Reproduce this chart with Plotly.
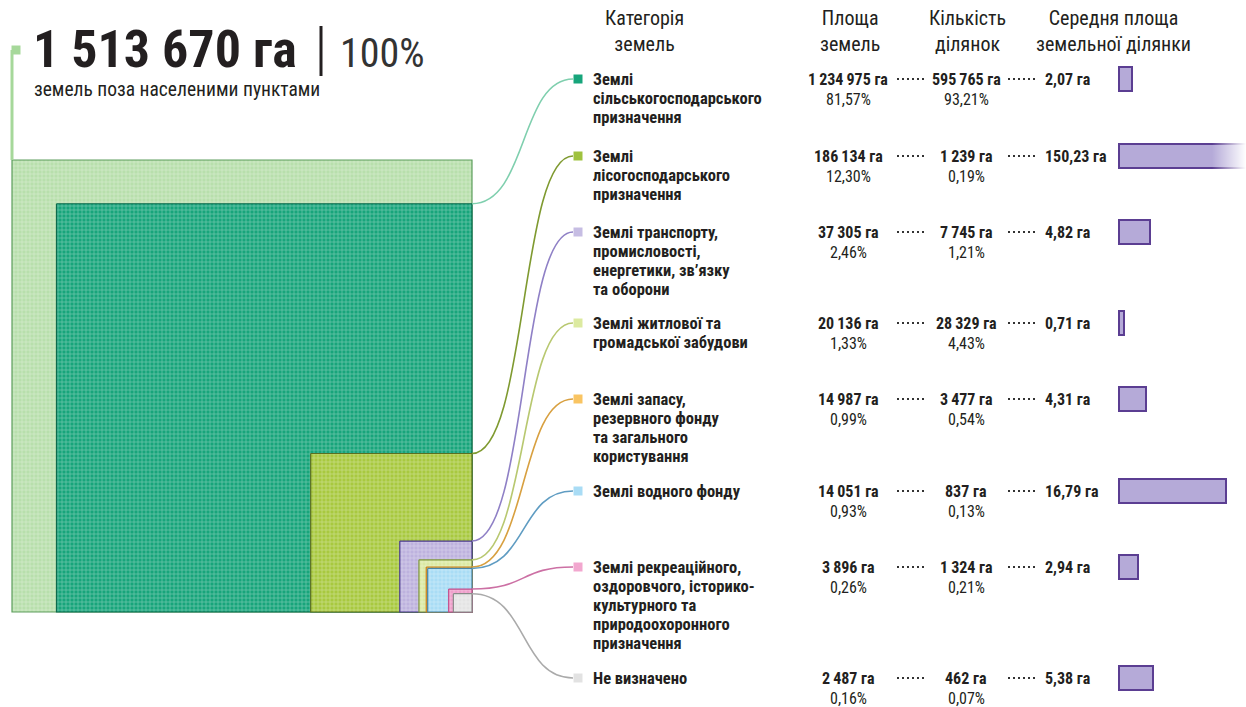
import plotly.graph_objects as go

# ---------------- data ----------------
total_ha = 1513670
categories = [
    "Землі<br>сільськогосподарського<br>призначення",
    "Землі<br>лісогосподарського<br>призначення",
    "Землі транспорту,<br>промисловості,<br>енергетики, зв’язку<br>та оборони",
    "Землі житлової та<br>громадської забудови",
    "Землі запасу,<br>резервного фонду<br>та загального<br>користування",
    "Землі водного фонду",
    "Землі рекреаційного,<br>оздоровчого, історико-<br>культурного та<br>природоохоронного<br>призначення",
    "Не визначено",
]
area_ha = [1234975, 186134, 37305, 20136, 14987, 14051, 3896, 2487]
area_pct = [81.57, 12.30, 2.46, 1.33, 0.99, 0.93, 0.26, 0.16]
parcels = [595765, 1239, 7745, 28329, 3477, 837, 1324, 462]
parcel_pct = [93.21, 0.19, 1.21, 4.43, 0.54, 0.13, 0.21, 0.07]
avg_area = [2.07, 150.23, 4.82, 0.71, 4.31, 16.79, 2.94, 5.38]

headers = ["Категорія<br>земель", "Площа<br>земель", "Кількість<br>ділянок",
           "Середня площа<br>земельної ділянки"]
title_main = "1 513 670 га"
title_pct = "100%"
subtitle = "земель поза населеними пунктами"

# ---------------- styles / layout ----------------
W, H = 1246, 707
FONT = "Roboto Condensed, Liberation Sans Narrow, DejaVu Sans Condensed, Open Sans, sans-serif"
TXT = "#231f20"
fill_cols = ["#17a57b", "#a8c93f", "#bdb2de", "#dbe9a3", "#f6b545", "#a9dcf5", "#ef9fcb", "#e4e4e4"]
edge_cols = ["#0d6a4d", "#5b6f21", "#4b3a8c", "#7d9540", "#c7801a", "#4a86a8", "#c24f8c", "#8a8a8a"]
curve_cols = ["#7fcfae", "#7f9a30", "#8f80c6", "#b8c870", "#d8a040", "#5f9cc2", "#cc70a4", "#aaaaaa"]
mark_cols = ["#17a57b", "#9fc23e", "#c6bde3", "#dceaa0", "#f9c462", "#a9dcf5", "#f2a7cf", "#e2e2e2"]
total_fill, total_edge = "#b8dfac", "#5e9e5e"

row_y = [79, 156, 232, 323, 399, 491, 567, 678]
LINE_STEP = 19
SQ_W, SQ_H = 460, 452    # size of the 100% square (pixels)
SQ_X1, SQ_Y1 = 472, 612  # bottom-right anchor
MARK_X = 578
LABEL_X = 591
AREA_CX, COUNT_CX, AVG_X = 848, 966, 1043
BAR_X0, BAR_PX_PER_HA = 1119, 6.37
VAL_SIZE = 16


def fmt_int(v):
    return f"{v:,}".replace(",", "\u2009") + " га"


def fmt_pct(v):
    return f"{v:.2f}".replace(".", ",") + "%"


def fmt_dec(v):
    return f"{v:.2f}".replace(".", ",") + " га"


fig = go.Figure()
pattern = dict(shape="+", fgcolor="white", fgopacity=0.4, size=4, solidity=0.3)


def square_trace(frac, fill, edge):
    w, h = SQ_W * frac ** 0.5, SQ_H * frac ** 0.5
    x0, y0 = SQ_X1 - w, SQ_Y1 - h
    return go.Scatter(x=[x0, SQ_X1, SQ_X1, x0, x0], y=[y0, y0, SQ_Y1, SQ_Y1, y0],
                      mode="lines", fill="toself", fillcolor=fill,
                      fillpattern=dict(pattern, bgcolor=fill),
                      line=dict(color=edge, width=1.2), hoverinfo="skip",
                      showlegend=False)


# total square
fig.add_trace(square_trace(1.0, total_fill, total_edge))
fracs = [a / total_ha for a in area_ha]
for f, fc, ec in zip(fracs, fill_cols, edge_cols):
    fig.add_trace(square_trace(f, fc, ec))

# connector curves
shapes = []
for f, ry, cc in zip(fracs, row_y, curve_cols):
    x0, y0 = SQ_X1, SQ_Y1 - SQ_H * f ** 0.5
    x1, y1 = MARK_X - 5, ry
    cx = x0 + (x1 - x0) * 0.55
    shapes.append(dict(type="path", xref="x", yref="y",
                       path=f"M {x0},{y0} C {cx},{y0} {cx - 8},{y1} {x1},{y1}",
                       line=dict(color=cc, width=1.6)))

# title marker + vertical line
total_top = SQ_Y1 - SQ_H
fig.add_trace(go.Scatter(x=[SQ_X1 - SQ_W, SQ_X1 - SQ_W], y=[50, total_top], mode="lines",
                         line=dict(color="#a6d89a", width=3), hoverinfo="skip", showlegend=False))
fig.add_trace(go.Scatter(x=[SQ_X1 - SQ_W + 4], y=[50], mode="markers",
                         marker=dict(symbol="square", size=9, color="#a6d89a"),
                         hoverinfo="skip", showlegend=False))
shapes.append(dict(type="line", xref="x", yref="y", x0=321, x1=321, y0=26, y1=76,
                   line=dict(color=TXT, width=3)))

# legend markers
fig.add_trace(go.Scatter(x=[MARK_X] * len(row_y), y=row_y, mode="markers",
                         marker=dict(symbol="square", size=9, color=mark_cols),
                         hoverinfo="skip", showlegend=False))

# dotted leaders
for ry in row_y:
    for xa, xb in [(897, 927), (1008, 1038)]:
        fig.add_trace(go.Scatter(x=[xa, xb], y=[ry, ry], mode="lines",
                                 line=dict(color="#333333", width=2, dash="2px,3px"),
                                 hoverinfo="skip", showlegend=False))

# average-area bars on their own x scale
fig.add_trace(go.Bar(x=avg_area, y=row_y, orientation="h", xaxis="x2", yaxis="y",
                     width=24, marker=dict(color="#b5aad8", line=dict(color="#5b3e92", width=2)),
                     hoverinfo="skip", showlegend=False))
# fade of the overflowing bar
fade_x0 = (1212 - BAR_X0) / BAR_PX_PER_HA
fade_x1 = (W - BAR_X0) / BAR_PX_PER_HA
ry = row_y[1]
fig.add_trace(go.Scatter(x=[fade_x0, fade_x1, fade_x1, fade_x0, fade_x0],
                         y=[ry - 15, ry - 15, ry + 15, ry + 15, ry - 15],
                         xaxis="x2", yaxis="y", mode="lines", line=dict(width=0),
                         fill="toself",
                         fillgradient=dict(type="horizontal",
                                           colorscale=[[0, "rgba(255,255,255,0)"], [1, "rgba(255,255,255,1)"]]),
                         hoverinfo="skip", showlegend=False))

ann = []
# title
ann.append(dict(x=31, y=49, text=f"<b>{title_main}</b>", xanchor="left", yanchor="middle",
                font=dict(size=52, color=TXT, family=FONT)))
ann.append(dict(x=338, y=53, text=title_pct, xanchor="left", yanchor="middle",
                font=dict(size=40, color="#333333", family=FONT)))
ann.append(dict(x=32, y=89, text=subtitle, xanchor="left", yanchor="middle",
                font=dict(size=19.5, color=TXT, family=FONT)))
# headers
for htxt, hx in zip(headers, [644, 850, 967, 1113]):
    ann.append(dict(x=hx, y=31, text=htxt, xanchor="center", yanchor="middle",
                    font=dict(size=20, color=TXT, family=FONT)))
# rows
for cat, a, ap, p, pp, av, ryy in zip(categories, area_ha, area_pct, parcels, parcel_pct, avg_area, row_y):
    for i, line in enumerate(cat.split("<br>")):
        ann.append(dict(x=LABEL_X, y=ryy + i * LINE_STEP, text=f"<b>{line}</b>", xanchor="left",
                        yanchor="middle", font=dict(size=16.5, color=TXT, family=FONT)))
    ann.append(dict(x=AREA_CX, y=ryy, text=f"<b>{fmt_int(a)}</b>", xanchor="center", yanchor="middle",
                    font=dict(size=VAL_SIZE, color=TXT, family=FONT)))
    ann.append(dict(x=AREA_CX, y=ryy + 20, text=fmt_pct(ap), xanchor="center", yanchor="middle",
                    font=dict(size=VAL_SIZE, color=TXT, family=FONT)))
    ann.append(dict(x=COUNT_CX, y=ryy, text=f"<b>{fmt_int(p)}</b>", xanchor="center", yanchor="middle",
                    font=dict(size=VAL_SIZE, color=TXT, family=FONT)))
    ann.append(dict(x=COUNT_CX, y=ryy + 20, text=fmt_pct(pp), xanchor="center", yanchor="middle",
                    font=dict(size=VAL_SIZE, color=TXT, family=FONT)))
    ann.append(dict(x=AVG_X, y=ryy, text=f"<b>{fmt_dec(av)}</b>", xanchor="left", yanchor="middle",
                    font=dict(size=VAL_SIZE, color=TXT, family=FONT)))
for a_ in ann:
    a_.update(xref="x", yref="y", showarrow=False)

bar_dom0 = (BAR_X0 - 3) / W
fig.update_layout(
    width=W, height=H, margin=dict(l=0, r=0, t=0, b=0),
    paper_bgcolor="white", plot_bgcolor="rgba(0,0,0,0)",
    xaxis=dict(range=[0, W], visible=False, fixedrange=True),
    yaxis=dict(range=[H, 0], visible=False, fixedrange=True),
    xaxis2=dict(range=[-3 / BAR_PX_PER_HA, (W - BAR_X0) / BAR_PX_PER_HA],
                domain=[bar_dom0, 1], anchor="y", visible=False, fixedrange=True),
    shapes=shapes, annotations=ann, bargap=0,
)
fig.write_html("out.html", config={"displayModeBar": False},
               post_script="document.body.style.margin='0px';document.body.style.overflow='hidden';")
